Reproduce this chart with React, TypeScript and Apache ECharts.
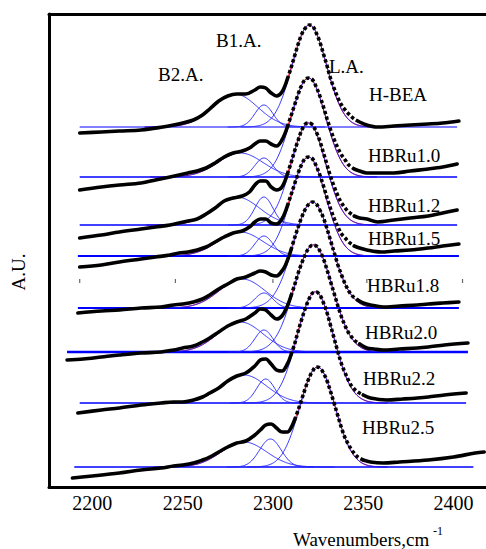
import React, { useEffect, useRef } from "react";
import * as echarts from "echarts";

// ---------- data ----------
const xTicks = [2200, 2250, 2300, 2350, 2400];
const names = ["H-BEA", "HBRu1.0", "HBRu1.2", "HBRu1.5", "HBRu1.8", "HBRu2.0", "HBRu2.2", "HBRu2.5"];
// vertical stacking offset of each spectrum (A.U.)
const offsets = [360, 310, 262, 231, 179, 135, 84, 20];
// blue baseline extent (cm-1)
const baseStart = [2193, 2193, 2193, 2192, 2192, 2186, 2193, 2190];
const baseEnd = [2402, 2402, 2402, 2403, 2403, 2408, 2407, 2411];

// fitted components (centre cm-1, height A.U., sigma cm-1)
const b2Center = [2279, 2282, 2280, 2282, 2283, 2282, 2284, 2284];
const b2Height = [33, 24, 28, 24, 29, 30, 28, 25];
const b2Sigma = [12.5, 12.5, 12.5, 12.5, 12.5, 12.5, 12.5, 12.5];
const b1Center = [2295, 2295, 2295, 2295, 2295, 2295, 2296, 2298.6];
const b1Height = [22, 19, 28, 20, 15, 22, 24, 28];
const b1Sigma = [5, 5, 5, 5, 5, 5, 5, 6];
const laCenter = [2320.2, 2319.7, 2319.7, 2319.7, 2321.9, 2322.4, 2323.5, 2324.7];
const laHeight = [102, 99, 102, 99, 106, 107, 111, 100];
const laSigma = [9.5, 9.5, 9.5, 9.5, 10.5, 10.5, 10, 9.7];

// measured spectra [wavenumber, absorbance above baseline]
const hBEA = [
  [2193, -6], [2205, -5], [2215, -4], [2227, -3], [2239, 0], [2245, 2], [2250, 4], [2256, 7], [2261, 12], [2265, 18],
  [2270, 26], [2275, 31], [2280, 33], [2285, 33], [2290, 37], [2293, 40], [2296, 39], [2299, 34], [2302, 31], [2305, 35],
  [2308, 48], [2310, 59], [2312, 71], [2314, 83], [2316, 93], [2318, 99], [2320, 102], [2322, 101], [2324, 94], [2326, 85],
  [2328, 73], [2330, 61], [2332, 48], [2334, 38], [2336, 29], [2338, 22], [2340, 17], [2342, 13], [2345, 8], [2348, 5],
  [2352, 2], [2358, 0], [2367, 1], [2376, 2], [2386, 3], [2394, 4], [2403, 6],
];
const hbru10 = [
  [2193, -13], [2205, -10], [2215, -8], [2227, -6], [2235, -3], [2243, 0], [2248, 2], [2253, 4], [2258, 6], [2263, 9],
  [2268, 14], [2273, 20], [2278, 24], [2283, 26], [2287, 29], [2290, 33], [2293, 36], [2296, 36], [2299, 33], [2302, 31],
  [2305, 37], [2308, 50], [2310, 61], [2312, 72], [2314, 83], [2316, 92], [2318, 98], [2320, 99], [2322, 97], [2324, 90],
  [2326, 81], [2328, 70], [2330, 58], [2332, 47], [2334, 37], [2336, 29], [2338, 22], [2340, 17], [2342, 12], [2345, 8],
  [2348, 6], [2352, 4], [2358, 4], [2367, 4], [2376, 6], [2386, 8], [2394, 10], [2402, 13],
];
const hbru12 = [
  [2193, -13], [2205, -10], [2215, -7], [2227, -4], [2235, -2], [2243, 0], [2248, 2], [2253, 4], [2258, 6], [2263, 11],
  [2268, 17], [2273, 24], [2278, 27], [2283, 29], [2287, 33], [2290, 40], [2293, 44], [2296, 44], [2299, 38], [2302, 35],
  [2305, 38], [2308, 51], [2310, 62], [2312, 74], [2314, 85], [2316, 95], [2318, 101], [2320, 102], [2322, 100], [2324, 93],
  [2326, 84], [2328, 72], [2330, 60], [2332, 48], [2334, 38], [2336, 29], [2338, 22], [2340, 17], [2342, 13], [2345, 9],
  [2348, 7], [2352, 6], [2358, 3], [2367, 5], [2376, 7], [2386, 9], [2394, 12], [2402, 15],
];
const hbru15 = [
  [2193, -11], [2205, -9], [2215, -6], [2227, -3], [2235, -1], [2243, 1], [2248, 3], [2253, 4], [2258, 6], [2263, 9],
  [2268, 14], [2273, 19], [2278, 23], [2283, 25], [2287, 29], [2290, 34], [2293, 37], [2296, 37], [2299, 33], [2302, 32],
  [2305, 37], [2308, 50], [2310, 61], [2312, 72], [2314, 83], [2316, 92], [2318, 98], [2320, 99], [2322, 97], [2324, 90],
  [2326, 81], [2328, 70], [2330, 58], [2332, 47], [2334, 37], [2336, 29], [2338, 22], [2340, 18], [2342, 14], [2345, 10],
  [2348, 8], [2352, 6], [2360, 4], [2367, 5], [2376, 6], [2386, 8], [2394, 10], [2403, 12],
];
const hbru18 = [
  [2192, -5], [2205, -3], [2215, -2], [2227, 0], [2238, 1], [2245, 3], [2250, 4], [2256, 6], [2261, 9], [2265, 13],
  [2270, 19], [2275, 24], [2280, 29], [2285, 31], [2290, 35], [2293, 37], [2296, 36], [2299, 33], [2302, 32], [2305, 37],
  [2307, 43], [2310, 58], [2312, 70], [2314, 81], [2316, 91], [2318, 99], [2320, 104], [2322, 106], [2324, 104], [2326, 98],
  [2328, 90], [2330, 79], [2332, 67], [2334, 55], [2336, 43], [2338, 33], [2340, 24], [2342, 17], [2344, 12], [2347, 8],
  [2350, 5], [2354, 3], [2361, 1], [2370, 2], [2380, 3], [2386, 4], [2394, 5], [2403, 6],
];
const hbru20 = [
  [2186, -8], [2195, -7], [2205, -5], [2215, -3], [2227, -1], [2238, 0], [2245, 2], [2250, 4], [2256, 6], [2261, 10],
  [2265, 14], [2270, 20], [2275, 26], [2280, 30], [2285, 33], [2290, 39], [2293, 43], [2296, 42], [2299, 37], [2302, 33],
  [2305, 36], [2308, 46], [2310, 56], [2312, 67], [2314, 79], [2316, 89], [2318, 98], [2320, 104], [2322, 107], [2324, 106],
  [2326, 101], [2328, 93], [2330, 82], [2332, 70], [2334, 58], [2336, 46], [2338, 35], [2340, 26], [2342, 19], [2345, 12],
  [2348, 8], [2352, 4], [2356, 3], [2361, 2], [2370, 3], [2380, 4], [2386, 5], [2395, 7], [2408, 9],
];
const hbru22 = [
  [2192, -10], [2205, -7], [2215, -5], [2227, -2], [2238, 0], [2245, 1], [2250, 1], [2256, 3], [2261, 6], [2265, 10],
  [2270, 15], [2275, 22], [2280, 27], [2285, 30], [2290, 37], [2293, 43], [2296, 44], [2299, 39], [2302, 33], [2305, 32],
  [2308, 39], [2310, 48], [2312, 59], [2314, 72], [2316, 84], [2318, 95], [2320, 104], [2322, 110], [2324, 111], [2326, 108],
  [2328, 100], [2330, 90], [2332, 77], [2334, 64], [2336, 51], [2338, 39], [2340, 30], [2342, 22], [2344, 16], [2347, 11],
  [2350, 8], [2354, 5], [2363, 3], [2372, 4], [2380, 5], [2386, 6], [2395, 8], [2407, 10],
];
const hbru25 = [
  [2189, -11], [2200, -9], [2215, -6], [2227, -3], [2238, -1], [2245, 1], [2250, 2], [2256, 4], [2261, 7], [2265, 10],
  [2270, 15], [2275, 20], [2280, 24], [2285, 26], [2290, 32], [2293, 37], [2296, 42], [2299, 43], [2302, 39], [2305, 35],
  [2308, 35], [2310, 39], [2312, 47], [2314, 57], [2316, 68], [2318, 79], [2320, 89], [2322, 96], [2324, 100], [2326, 99],
  [2328, 94], [2330, 86], [2332, 75], [2334, 63], [2336, 51], [2338, 39], [2340, 29], [2342, 22], [2344, 16], [2347, 10],
  [2350, 7], [2354, 5], [2361, 4], [2370, 5], [2386, 7], [2400, 10], [2412, 14], [2417, 15],
];
const spectra = [hBEA, hbru10, hbru12, hbru15, hbru18, hbru20, hbru22, hbru25];

// stray tick marks seen in the middle of the figure
const strayTickWn = [2193, 2246, 2300, 2352, 2405];
const strayTickLevel = 206;

// ---------- styling / layout ----------
const FONT = "Liberation Serif";
const baseWidths = [1.2, 1.5, 1.5, 1.8, 2, 2.4, 1.5, 1.5];
const labelPos = [
  [369, 94], [368, 155], [368, 205], [368, 238], [367, 285], [365, 332], [363, 378], [362, 427],
];

const gauss = (x: number, c: number, h: number, s: number) => h * Math.exp(-((x - c) * (x - c)) / (2 * s * s));

function txt(text: string, x: number, y: number, size = 19, extra: any = {}) {
  return {
    type: "text", x, y, silent: true, ...extra,
    style: { text, fontSize: size, fontFamily: FONT, fill: "#000", verticalAlign: "middle", ...(extra.style || {}) },
  };
}

function buildOption() {
  const reds: any[] = [];
  const bases: any[] = [];
  const comps: any[] = [];
  const blacks: any[] = [];

  spectra.forEach((pts, i) => {
    const off = offsets[i];
    // red fit (sum of components)
    const fit: number[][] = [];
    const fs = b2Center[i] - 4 * b2Sigma[i];
    const fe = laCenter[i] + 4 * laSigma[i];
    for (let x = fs; x <= fe; x += 0.5) {
      fit.push([
        x,
        off +
          gauss(x, b2Center[i], b2Height[i], b2Sigma[i]) +
          gauss(x, b1Center[i], b1Height[i], b1Sigma[i]) +
          gauss(x, laCenter[i], laHeight[i], laSigma[i]),
      ]);
    }
    reds.push({
      type: "line", data: fit, showSymbol: false, silent: true,
      lineStyle: { color: "#ff0000", width: 1 },
    });
    bases.push({
      type: "line", data: [[baseStart[i], off], [baseEnd[i], off]], showSymbol: false, silent: true,
      lineStyle: { color: "#0000ff", width: baseWidths[i] },
    });
    const comp = (c: number, h: number, s: number) => {
      const d: number[][] = [];
      for (let x = c - 4 * s; x <= c + 4 * s; x += 0.5) d.push([x, off + gauss(x, c, h, s)]);
      return d;
    };
    [
      comp(b2Center[i], b2Height[i], b2Sigma[i]),
      comp(b1Center[i], b1Height[i], b1Sigma[i]),
      comp(laCenter[i], laHeight[i], laSigma[i]),
    ].forEach((d) =>
      comps.push({
        type: "line", data: d, showSymbol: false, silent: true,
        lineStyle: { color: "#1f1fff", width: 0.9 },
      })
    );
    // black measured spectrum: solid outside the main band, marker-like inside
    const full = pts.map((p) => [p[0], off + p[1]]);
    const s0 = laCenter[i] - 14;
    const e0 = laCenter[i] + 28;
    const i0 = full.findIndex((p) => p[0] >= s0);
    let i1 = full.length - 1;
    for (let k = full.length - 1; k >= 0; k--) if (full[k][0] <= e0) { i1 = k; break; }
    const left = full.slice(0, i0 + 1);
    const mid = full.slice(i0, i1 + 1);
    const right = full.slice(i1);
    [left, right].forEach((d) =>
      blacks.push({
        type: "line", data: d, showSymbol: false, silent: true, smooth: 0.35,
        lineStyle: { color: "#000", width: 3.6, cap: "round", join: "round" },
      })
    );
    blacks.push({
      type: "line", data: mid, showSymbol: false, silent: true, smooth: 0.35,
      lineStyle: { color: "#000", width: 3.6, type: [3.4, 2.4], cap: "butt" },
    });
  });

  const stray = {
    type: "scatter", data: strayTickWn.map((w) => [w, strayTickLevel]), silent: true,
    symbol: "rect", symbolSize: [1.2, 4], itemStyle: { color: "#444" },
  };

  const graphic: any[] = [
    txt("B2.A.", 158, 74),
    txt("B1.A.", 216, 40),
    txt("L.A.", 329, 66),
    ...names.map((n, i) => txt(n, labelPos[i][0], labelPos[i][1])),
    txt("A.U.", 18, 272, 19, { rotation: Math.PI / 2, style: { align: "center" } }),
    txt("Wavenumbers,cm", 293, 539, 19),
    txt("-1", 433, 531, 12),
  ];

  return {
    animation: false,
    backgroundColor: "#fff",
    grid: { left: 49, right: 0, top: 14, bottom: 62 },
    xAxis: [
      {
        type: "value", min: 2176, max: 2418, position: "bottom",
        axisLine: { onZero: false, lineStyle: { color: "#000", width: 3 } },
        axisTick: { show: false },
        splitLine: { show: false },
        axisLabel: {
          customValues: xTicks, color: "#000", fontSize: 20, fontFamily: FONT, margin: 6,
          formatter: (v: number) => String(v),
        },
      },
      {
        type: "value", min: 2176, max: 2418, position: "top",
        axisLine: { onZero: false, lineStyle: { color: "#000", width: 3 } },
        axisTick: { show: false }, axisLabel: { show: false }, splitLine: { show: false },
      },
    ],
    yAxis: {
      type: "value", min: 0, max: 473,
      axisLine: { show: true, onZero: false, lineStyle: { color: "#000", width: 3 } },
      axisTick: { show: false }, axisLabel: { show: false }, splitLine: { show: false },
    },
    series: [stray, ...reds, ...bases, ...comps, ...blacks],
    graphic,
  };
}

export default function App() {
  const ref = useRef<HTMLDivElement>(null);
  useEffect(() => {
    const chart = echarts.init(ref.current!, null, { renderer: "svg" });
    chart.setOption(buildOption() as any);
    return () => chart.dispose();
  }, []);
  return (
    <div
      ref={ref}
      style={{ position: "fixed", left: 0, top: 0, width: 486, height: 549, background: "#fff" }}
    />
  );
}
